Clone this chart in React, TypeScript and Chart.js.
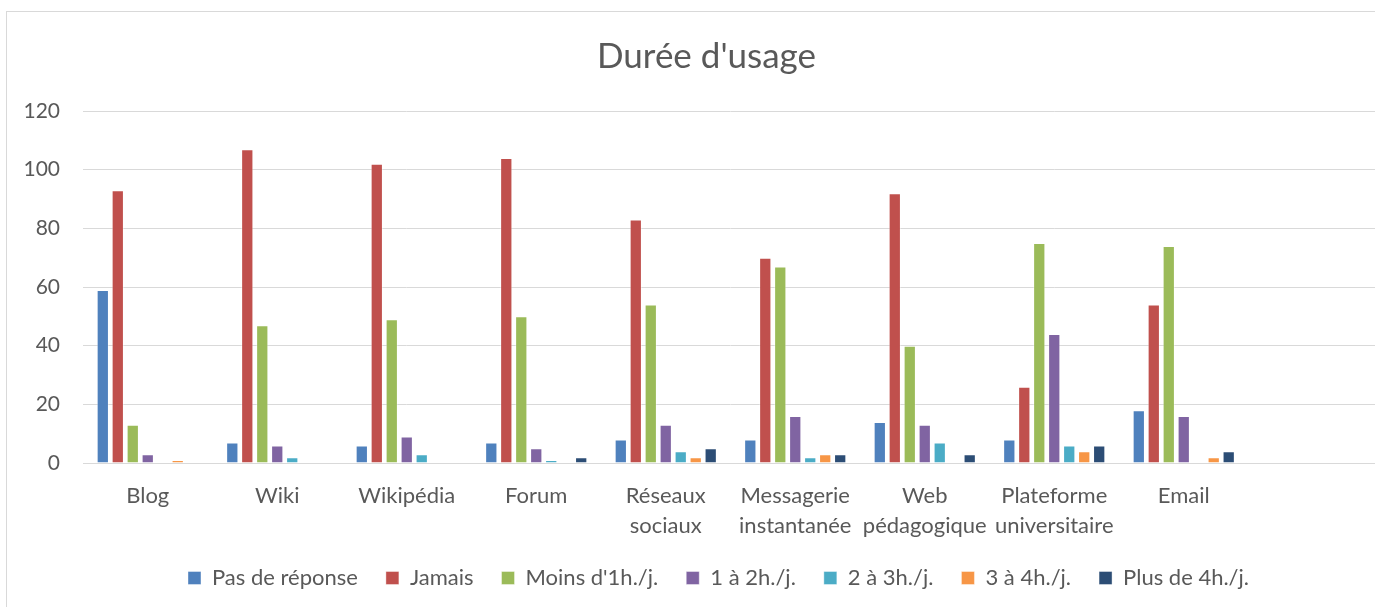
import React, { useEffect, useRef } from "react";
import { Chart, registerables } from "chart.js";

Chart.register(...registerables);

const categories: (string | string[])[] = [
  "Blog",
  "Wiki",
  "Wikipédia",
  "Forum",
  ["Réseaux", "sociaux"],
  ["Messagerie", "instantanée"],
  ["Web", "pédagogique"],
  ["Plateforme", "universitaire"],
  "Email",
  "",
];

const pasDeReponse = [59, 7, 6, 7, 8, 8, 14, 8, 18, null];
const jamais = [93, 107, 102, 104, 83, 70, 92, 26, 54, null];
const moinsDe1h = [13, 47, 49, 50, 54, 67, 40, 75, 74, null];
const de1a2h = [3, 6, 9, 5, 13, 16, 13, 44, 16, null];
const de2a3h = [0, 2, 3, 1, 4, 2, 7, 6, 0, null];
const de3a4h = [1, 0, 0, 0, 2, 3, 0, 4, 2, null];
const plusDe4h = [0, 0, 0, 2, 5, 3, 3, 6, 4, null];

const seriesNames = [
  "Pas de réponse",
  "Jamais",
  "Moins d'1h./j.",
  "1 à 2h./j.",
  "2 à 3h./j.",
  "3 à 4h./j.",
  "Plus de 4h./j.",
];
const seriesColors = ["#4F81BD", "#C0504D", "#9BBB59", "#8064A2", "#4BACC6", "#F79646", "#2C4D75"];

const yTicks = [0, 20, 40, 60, 80, 100, 120];

const FONT = "Lato, 'Open Sans', sans-serif";

const shiftBoxes = {
  id: "shiftBoxes",
  afterLayout(chart: any) {
    if (chart.titleBlock) {
      chart.titleBlock.left += 14;
      chart.titleBlock.right += 14;
    }
    if (chart.legend) {
      chart.legend.left += 26;
      chart.legend.right += 26;
      if (chart.legend.adjustHitBoxes) chart.legend.adjustHitBoxes();
    }
  },
};

export default function App() {
  const ref = useRef<HTMLCanvasElement | null>(null);

  useEffect(() => {
    if (!ref.current) return;
    const seriesData = [pasDeReponse, jamais, moinsDe1h, de1a2h, de2a3h, de3a4h, plusDe4h];
    const chart = new Chart(ref.current, {
      type: "bar",
      data: {
        labels: categories,
        datasets: seriesNames.map((name, i) => ({
          label: name,
          data: seriesData[i],
          backgroundColor: seriesColors[i],
          borderColor: "rgba(255,255,255,0.4)",
          borderWidth: 1,
          barPercentage: 0.82,
          categoryPercentage: 0.81,
        })),
      },
      plugins: [shiftBoxes],
      options: {
        animation: false,
        responsive: false,
        devicePixelRatio: 1,
        layout: { padding: { left: 0, right: 29, top: 0, bottom: 8 } },
        plugins: {
          title: {
            display: true,
            text: "Durée d'usage",
            color: "#595959",
            font: { family: FONT, size: 35, weight: "normal" },
            padding: { top: 24, bottom: 33 },
          },
          legend: {
            position: "bottom",
            labels: {
              boxWidth: 13,
              boxHeight: 13,
              color: "#595959",
              font: { family: FONT, size: 22 },
              padding: 28,
            },
          },
          tooltip: { enabled: false },
        },
        scales: {
          x: {
            afterFit: (axis: any) => {
              axis.height = 76;
            },
            grid: { display: false, drawTicks: false },
            border: { display: true, color: "#d9d9d9", width: 1 },
            ticks: {
              color: "#595959",
              font: { family: FONT, size: 22, lineHeight: 1.36 },
              maxRotation: 0,
              autoSkip: false,
              padding: 18,
            },
          },
          y: {
            min: 0,
            max: 120,
            afterBuildTicks: (axis: any) => {
              axis.ticks = yTicks.map((v) => ({ value: v }));
            },
            afterFit: (axis: any) => {
              axis.width = 76;
            },
            grid: { color: "#d9d9d9", lineWidth: 1, drawTicks: false },
            border: { display: false },
            ticks: {
              color: "#595959",
              font: { family: FONT, size: 21 },
              padding: 23,
            },
          },
        },
      },
    });
    return () => chart.destroy();
  }, []);

  return (
    <div
      style={{
        position: "fixed",
        left: 0,
        top: 0,
        width: 1375,
        height: 607,
        overflow: "hidden",
        background: "#fff",
      }}
    >
      <div
        style={{
          position: "absolute",
          left: 6,
          top: 11,
          width: 1420,
          height: 620,
          borderLeft: "1px solid #d9d9d9",
          borderTop: "1px solid #d9d9d9",
        }}
      >
        <canvas ref={ref} width={1400} height={595} style={{ display: "block", width: 1400, height: 595 }} />
      </div>
    </div>
  );
}
